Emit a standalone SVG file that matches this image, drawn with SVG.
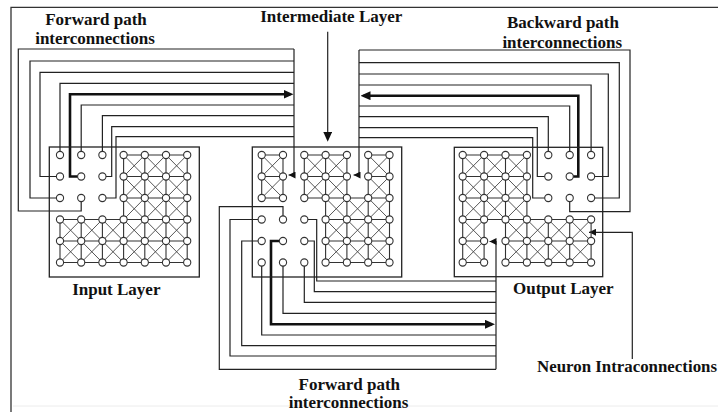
<svg xmlns="http://www.w3.org/2000/svg" width="718" height="412" viewBox="0 0 718 412">
<style>
.frame{fill:none;stroke:#333;stroke-width:1.3}
.ln{fill:none;stroke:#222;stroke-width:1.2}
.thk{fill:none;stroke:#111;stroke-width:2.6}
.box{fill:none;stroke:#222;stroke-width:1.3}
.grid{fill:none;stroke:#333;stroke-width:1.1}
.xx{fill:none;stroke:#444;stroke-width:0.9}
.n circle{fill:#fff;stroke:#333;stroke-width:1.1}
.lbl{font-family:"Liberation Serif","Times New Roman",serif;font-weight:bold;font-size:17px;fill:#111}
</style>
<defs>
<marker id="ah" markerUnits="userSpaceOnUse" markerWidth="7" markerHeight="7" viewBox="0 0 7 7" refX="7" refY="3.5" orient="auto"><path d="M0 0L7 3.5L0 7z" fill="#111"/></marker>
<marker id="ahL" markerUnits="userSpaceOnUse" markerWidth="10" markerHeight="9" viewBox="0 0 10 9" refX="7" refY="4.5" orient="auto"><path d="M0 0L10 4.5L0 9z" fill="#111"/></marker>
</defs>
<rect width="718" height="412" fill="#fff"/>
<path class="frame" d="M11 412V7.3H718"/>
<path d="M13 406H718" stroke="#ececec" stroke-width="1" fill="none"/>

<g id="connectors">
<g id="forward-top">
<path class="ln" d="M81.2 198V211H18.3V49H294M60 198H30V61H294M60 176.5H40V72.3H294M60 155V83.3H294M81.2 155V105H294M102.4 155V115.7H294M102.4 176.5H111.7V126.7H294M102.4 198H116V136.7H294"/>
<path class="thk" d="M81.2 176.5H70V94.3H290.5" marker-end="url(#ahL)"/>
<path class="ln" d="M294 49V175H288.5" marker-end="url(#ah)"/>
</g>
<g id="backward-top">
<path class="ln" d="M569.7 198V211.7H630V50H359M591.1 198H619.3V62.7H359M591.1 176.5H608.3V74H359M591.1 155V85H359M569.7 155V106H359M548.3 155V116.7H359M548.3 176.5H537.3V127.7H359M548.3 198H532.7V137.7H359"/>
<path class="thk" d="M569.7 176.5H578.3V95.7H363.5" marker-end="url(#ahL)"/>
<path class="ln" d="M359 50V175H353.5" marker-end="url(#ah)"/>
</g>
<g id="forward-bottom">
<path class="ln" d="M304.3 219.5H316.7V281H496M304.3 241H314.3V291.7H496M304.3 262.5V302.3H496M283 262.5V313.3H496M261.7 262.5V335H496M261.7 241H241.7V345.7H496M261.7 219.5H230V356H496M283 219.5V206.7H219.3V369.3H496"/>
<path class="thk" d="M283 241H271V324.3H492" marker-end="url(#ahL)"/>
<path class="ln" d="M496 369.3V241.5H489.5" marker-end="url(#ah)"/>
</g>
<path id="intra-pointer" class="ln" d="M632.3 359V232.3H589" marker-end="url(#ah)"/>
<path id="intermediate-pointer" class="ln" d="M327.7 31.7V138.7" marker-end="url(#ahL)"/>
</g>

<g id="input-layer" class="n">
<rect class="box" x="49.3" y="147" width="150" height="130"/>
<path class="grid" d="M123.6 155H187.2M123.6 176.5H187.2M123.6 198H187.2M60 219.5H187.2M60 241H187.2M60 262.5H187.2M123.6 155V262.5M144.8 155V262.5M166 155V262.5M187.2 155V262.5M60 219.5V262.5M81.2 219.5V262.5M102.4 219.5V262.5"/>
<path class="xx" d="M123.6 155L144.8 176.5M144.8 155L123.6 176.5M144.8 155L166 176.5M166 155L144.8 176.5M166 155L187.2 176.5M187.2 155L166 176.5M123.6 176.5L144.8 198M144.8 176.5L123.6 198M144.8 176.5L166 198M166 176.5L144.8 198M166 176.5L187.2 198M187.2 176.5L166 198M123.6 198L144.8 219.5M144.8 198L123.6 219.5M144.8 198L166 219.5M166 198L144.8 219.5M166 198L187.2 219.5M187.2 198L166 219.5M60 219.5L81.2 241M81.2 219.5L60 241M81.2 219.5L102.4 241M102.4 219.5L81.2 241M102.4 219.5L123.6 241M123.6 219.5L102.4 241M123.6 219.5L144.8 241M144.8 219.5L123.6 241M144.8 219.5L166 241M166 219.5L144.8 241M166 219.5L187.2 241M187.2 219.5L166 241M60 241L81.2 262.5M81.2 241L60 262.5M81.2 241L102.4 262.5M102.4 241L81.2 262.5M102.4 241L123.6 262.5M123.6 241L102.4 262.5M123.6 241L144.8 262.5M144.8 241L123.6 262.5M144.8 241L166 262.5M166 241L144.8 262.5M166 241L187.2 262.5M187.2 241L166 262.5"/>
<circle cx="60" cy="155" r="3.6"/><circle cx="81.2" cy="155" r="3.6"/><circle cx="102.4" cy="155" r="3.6"/><circle cx="123.6" cy="155" r="3.6"/><circle cx="144.8" cy="155" r="3.6"/><circle cx="166" cy="155" r="3.6"/><circle cx="187.2" cy="155" r="3.6"/>
<circle cx="60" cy="176.5" r="3.6"/><circle cx="81.2" cy="176.5" r="3.6"/><circle cx="102.4" cy="176.5" r="3.6"/><circle cx="123.6" cy="176.5" r="3.6"/><circle cx="144.8" cy="176.5" r="3.6"/><circle cx="166" cy="176.5" r="3.6"/><circle cx="187.2" cy="176.5" r="3.6"/>
<circle cx="60" cy="198" r="3.6"/><circle cx="81.2" cy="198" r="3.6"/><circle cx="102.4" cy="198" r="3.6"/><circle cx="123.6" cy="198" r="3.6"/><circle cx="144.8" cy="198" r="3.6"/><circle cx="166" cy="198" r="3.6"/><circle cx="187.2" cy="198" r="3.6"/>
<circle cx="60" cy="219.5" r="3.6"/><circle cx="81.2" cy="219.5" r="3.6"/><circle cx="102.4" cy="219.5" r="3.6"/><circle cx="123.6" cy="219.5" r="3.6"/><circle cx="144.8" cy="219.5" r="3.6"/><circle cx="166" cy="219.5" r="3.6"/><circle cx="187.2" cy="219.5" r="3.6"/>
<circle cx="60" cy="241" r="3.6"/><circle cx="81.2" cy="241" r="3.6"/><circle cx="102.4" cy="241" r="3.6"/><circle cx="123.6" cy="241" r="3.6"/><circle cx="144.8" cy="241" r="3.6"/><circle cx="166" cy="241" r="3.6"/><circle cx="187.2" cy="241" r="3.6"/>
<circle cx="60" cy="262.5" r="3.6"/><circle cx="81.2" cy="262.5" r="3.6"/><circle cx="102.4" cy="262.5" r="3.6"/><circle cx="123.6" cy="262.5" r="3.6"/><circle cx="144.8" cy="262.5" r="3.6"/><circle cx="166" cy="262.5" r="3.6"/><circle cx="187.2" cy="262.5" r="3.6"/>
</g>

<g id="intermediate-layer" class="n">
<rect class="box" x="252.3" y="147" width="149.4" height="130"/>
<path class="grid" d="M261.7 155H283M261.7 176.5H283M261.7 198H283M261.7 155V198M283 155V198M304.3 155H346.9M368.2 155H389.5M304.3 176.5H346.9M368.2 176.5H389.5M304.3 198H389.5M325.6 219.5H389.5M325.6 241H389.5M325.6 262.5H389.5M304.3 155V198M325.6 155V262.5M346.9 155V262.5M368.2 155V262.5M389.5 155V262.5"/>
<path class="xx" d="M261.7 155L283 176.5M283 155L261.7 176.5M261.7 176.5L283 198M283 176.5L261.7 198M304.3 155L325.6 176.5M325.6 155L304.3 176.5M325.6 155L346.9 176.5M346.9 155L325.6 176.5M304.3 176.5L325.6 198M325.6 176.5L304.3 198M325.6 176.5L346.9 198M346.9 176.5L325.6 198M368.2 155L389.5 176.5M389.5 155L368.2 176.5M368.2 176.5L389.5 198M389.5 176.5L368.2 198M325.6 198L346.9 219.5M346.9 198L325.6 219.5M346.9 198L368.2 219.5M368.2 198L346.9 219.5M368.2 198L389.5 219.5M389.5 198L368.2 219.5M325.6 219.5L346.9 241M346.9 219.5L325.6 241M346.9 219.5L368.2 241M368.2 219.5L346.9 241M368.2 219.5L389.5 241M389.5 219.5L368.2 241M325.6 241L346.9 262.5M346.9 241L325.6 262.5M346.9 241L368.2 262.5M368.2 241L346.9 262.5M368.2 241L389.5 262.5M389.5 241L368.2 262.5"/>
<circle cx="261.7" cy="155" r="3.6"/><circle cx="283" cy="155" r="3.6"/><circle cx="304.3" cy="155" r="3.6"/><circle cx="325.6" cy="155" r="3.6"/><circle cx="346.9" cy="155" r="3.6"/><circle cx="368.2" cy="155" r="3.6"/><circle cx="389.5" cy="155" r="3.6"/>
<circle cx="261.7" cy="176.5" r="3.6"/><circle cx="283" cy="176.5" r="3.6"/><circle cx="304.3" cy="176.5" r="3.6"/><circle cx="325.6" cy="176.5" r="3.6"/><circle cx="346.9" cy="176.5" r="3.6"/><circle cx="368.2" cy="176.5" r="3.6"/><circle cx="389.5" cy="176.5" r="3.6"/>
<circle cx="261.7" cy="198" r="3.6"/><circle cx="283" cy="198" r="3.6"/><circle cx="304.3" cy="198" r="3.6"/><circle cx="325.6" cy="198" r="3.6"/><circle cx="346.9" cy="198" r="3.6"/><circle cx="368.2" cy="198" r="3.6"/><circle cx="389.5" cy="198" r="3.6"/>
<circle cx="261.7" cy="219.5" r="3.6"/><circle cx="283" cy="219.5" r="3.6"/><circle cx="304.3" cy="219.5" r="3.6"/><circle cx="325.6" cy="219.5" r="3.6"/><circle cx="346.9" cy="219.5" r="3.6"/><circle cx="368.2" cy="219.5" r="3.6"/><circle cx="389.5" cy="219.5" r="3.6"/>
<circle cx="261.7" cy="241" r="3.6"/><circle cx="283" cy="241" r="3.6"/><circle cx="304.3" cy="241" r="3.6"/><circle cx="325.6" cy="241" r="3.6"/><circle cx="346.9" cy="241" r="3.6"/><circle cx="368.2" cy="241" r="3.6"/><circle cx="389.5" cy="241" r="3.6"/>
<circle cx="261.7" cy="262.5" r="3.6"/><circle cx="283" cy="262.5" r="3.6"/><circle cx="304.3" cy="262.5" r="3.6"/><circle cx="325.6" cy="262.5" r="3.6"/><circle cx="346.9" cy="262.5" r="3.6"/><circle cx="368.2" cy="262.5" r="3.6"/><circle cx="389.5" cy="262.5" r="3.6"/>
</g>

<g id="output-layer" class="n">
<rect class="box" x="454.3" y="147.3" width="148.4" height="129.4"/>
<path class="grid" d="M462.7 155H526.9M462.7 176.5H526.9M462.7 198H526.9M462.7 219.5H591.1M462.7 241H484.1M505.5 241H591.1M462.7 262.5H484.1M505.5 262.5H591.1M462.7 155V262.5M484.1 155V262.5M505.5 155V262.5M526.9 155V262.5M548.3 219.5V262.5M569.7 219.5V262.5M591.1 219.5V262.5"/>
<path class="xx" d="M462.7 155L484.1 176.5M484.1 155L462.7 176.5M484.1 155L505.5 176.5M505.5 155L484.1 176.5M505.5 155L526.9 176.5M526.9 155L505.5 176.5M462.7 176.5L484.1 198M484.1 176.5L462.7 198M484.1 176.5L505.5 198M505.5 176.5L484.1 198M505.5 176.5L526.9 198M526.9 176.5L505.5 198M462.7 198L484.1 219.5M484.1 198L462.7 219.5M484.1 198L505.5 219.5M505.5 198L484.1 219.5M505.5 198L526.9 219.5M526.9 198L505.5 219.5M462.7 219.5L484.1 241M484.1 219.5L462.7 241M462.7 241L484.1 262.5M484.1 241L462.7 262.5M505.5 219.5L526.9 241M526.9 219.5L505.5 241M526.9 219.5L548.3 241M548.3 219.5L526.9 241M548.3 219.5L569.7 241M569.7 219.5L548.3 241M569.7 219.5L591.1 241M591.1 219.5L569.7 241M505.5 241L526.9 262.5M526.9 241L505.5 262.5M526.9 241L548.3 262.5M548.3 241L526.9 262.5M548.3 241L569.7 262.5M569.7 241L548.3 262.5M569.7 241L591.1 262.5M591.1 241L569.7 262.5"/>
<circle cx="462.7" cy="155" r="3.6"/><circle cx="484.1" cy="155" r="3.6"/><circle cx="505.5" cy="155" r="3.6"/><circle cx="526.9" cy="155" r="3.6"/><circle cx="548.3" cy="155" r="3.6"/><circle cx="569.7" cy="155" r="3.6"/><circle cx="591.1" cy="155" r="3.6"/>
<circle cx="462.7" cy="176.5" r="3.6"/><circle cx="484.1" cy="176.5" r="3.6"/><circle cx="505.5" cy="176.5" r="3.6"/><circle cx="526.9" cy="176.5" r="3.6"/><circle cx="548.3" cy="176.5" r="3.6"/><circle cx="569.7" cy="176.5" r="3.6"/><circle cx="591.1" cy="176.5" r="3.6"/>
<circle cx="462.7" cy="198" r="3.6"/><circle cx="484.1" cy="198" r="3.6"/><circle cx="505.5" cy="198" r="3.6"/><circle cx="526.9" cy="198" r="3.6"/><circle cx="548.3" cy="198" r="3.6"/><circle cx="569.7" cy="198" r="3.6"/><circle cx="591.1" cy="198" r="3.6"/>
<circle cx="462.7" cy="219.5" r="3.6"/><circle cx="484.1" cy="219.5" r="3.6"/><circle cx="505.5" cy="219.5" r="3.6"/><circle cx="526.9" cy="219.5" r="3.6"/><circle cx="548.3" cy="219.5" r="3.6"/><circle cx="569.7" cy="219.5" r="3.6"/><circle cx="591.1" cy="219.5" r="3.6"/>
<circle cx="462.7" cy="241" r="3.6"/><circle cx="484.1" cy="241" r="3.6"/><circle cx="505.5" cy="241" r="3.6"/><circle cx="526.9" cy="241" r="3.6"/><circle cx="548.3" cy="241" r="3.6"/><circle cx="569.7" cy="241" r="3.6"/><circle cx="591.1" cy="241" r="3.6"/>
<circle cx="462.7" cy="262.5" r="3.6"/><circle cx="484.1" cy="262.5" r="3.6"/><circle cx="505.5" cy="262.5" r="3.6"/><circle cx="526.9" cy="262.5" r="3.6"/><circle cx="548.3" cy="262.5" r="3.6"/><circle cx="569.7" cy="262.5" r="3.6"/><circle cx="591.1" cy="262.5" r="3.6"/>
</g>

<g id="labels">
<text class="lbl" x="96" y="25" text-anchor="middle">Forward path</text>
<text class="lbl" x="95" y="44" text-anchor="middle">interconnections</text>
<text class="lbl" x="331.3" y="22" text-anchor="middle">Intermediate Layer</text>
<text class="lbl" x="563" y="28" text-anchor="middle">Backward path</text>
<text class="lbl" x="562.2" y="47.5" text-anchor="middle">interconnections</text>
<text class="lbl" x="116.3" y="295" text-anchor="middle">Input Layer</text>
<text class="lbl" x="563.3" y="294" text-anchor="middle">Output Layer</text>
<text class="lbl" x="537" y="372" textLength="180" lengthAdjust="spacingAndGlyphs">Neuron Intraconnections</text>
<text class="lbl" x="349.3" y="390.3" text-anchor="middle">Forward path</text>
<text class="lbl" x="348.5" y="408.3" text-anchor="middle">interconnections</text>
</g>
</svg>
